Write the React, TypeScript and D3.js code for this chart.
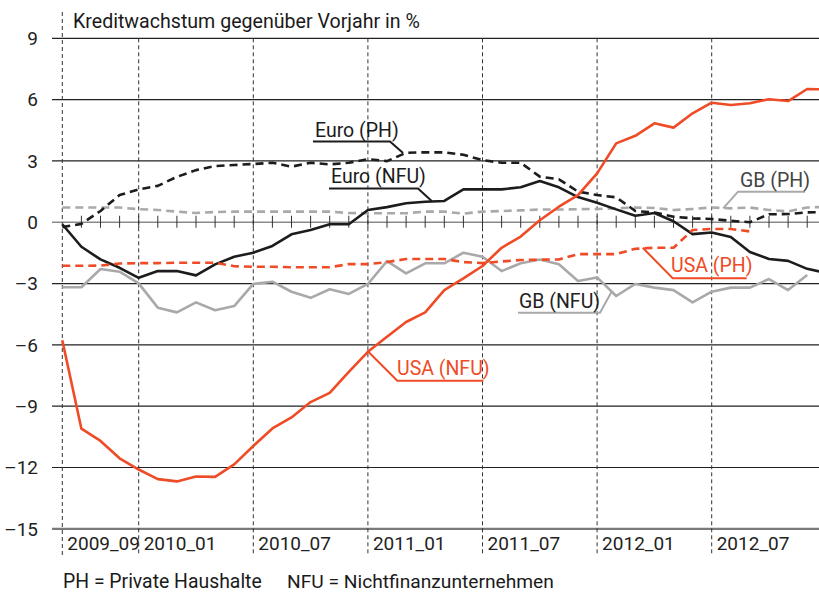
import React from 'react';
import * as d3 from 'd3';

// months from 2009_09 to 2013_01 (last one sits just outside the right edge)
const months = [
  '2009_09', '2009_10', '2009_11', '2009_12',
  '2010_01', '2010_02', '2010_03', '2010_04', '2010_05', '2010_06',
  '2010_07', '2010_08', '2010_09', '2010_10', '2010_11', '2010_12',
  '2011_01', '2011_02', '2011_03', '2011_04', '2011_05', '2011_06',
  '2011_07', '2011_08', '2011_09', '2011_10', '2011_11', '2011_12',
  '2012_01', '2012_02', '2012_03', '2012_04', '2012_05', '2012_06',
  '2012_07', '2012_08', '2012_09', '2012_10', '2012_11', '2012_12',
  '2013_01',
];

const monthLabels = ['2009_09', '2010_01', '2010_07', '2011_01', '2011_07', '2012_01', '2012_07'];
const yTicks = [9, 6, 3, 0, -3, -6, -9, -12, -15];

const euroPH = [
  -0.24, -0.08, 0.55, 1.33, 1.61, 1.78, 2.22, 2.55, 2.75, 2.8, 2.85, 2.91, 2.72, 2.91,
  2.83, 2.91, 3.09, 2.99, 3.4, 3.42, 3.42, 3.3, 3.04, 2.91, 2.91, 2.23, 2.1, 1.5,
  1.33, 1.22, 0.55, 0.48, 0.27, 0.19, 0.16, 0.07, 0.0, 0.39, 0.4, 0.48, 0.5,
];
const euroNFU = [
  -0.1, -1.2, -1.82, -2.23, -2.72, -2.39, -2.39, -2.6, -2.06, -1.69, -1.49, -1.16, -0.59, -0.38,
  -0.1, -0.1, 0.6, 0.74, 0.93, 1.0, 1.04, 1.61, 1.61, 1.61, 1.71, 2.02, 1.71, 1.23,
  0.95, 0.63, 0.32, 0.45, 0.05, -0.58, -0.5, -0.72, -1.46, -1.8, -1.89, -2.28, -2.48,
];
const gbPH = [
  0.72, 0.72, 0.72, 0.72, 0.64, 0.6, 0.52, 0.45, 0.5, 0.52, 0.52, 0.52, 0.52, 0.52,
  0.52, 0.45, 0.44, 0.44, 0.44, 0.52, 0.52, 0.42, 0.52, 0.55, 0.58, 0.62, 0.62, 0.64,
  0.65, 0.68, 0.72, 0.7, 0.6, 0.65, 0.72, 0.68, 0.72, 0.6, 0.53, 0.72, 0.75,
];
const gbNFU = [
  -3.18, -3.18, -2.29, -2.42, -2.99, -4.18, -4.41, -3.92, -4.31, -4.1, -3.02, -2.91, -3.4, -3.7,
  -3.28, -3.51, -3.02, -1.9, -2.5, -2.01, -2.01, -1.49, -1.69, -2.39, -2.01, -1.82, -2.06, -2.88,
  -2.7, -3.61, -3.02, -3.2, -3.32, -3.92, -3.4, -3.2, -3.2, -2.78, -3.32, -2.58,
];
const usaPH = [
  -2.13, -2.13, -2.12, -2.02, -2.0, -2.0, -1.98, -1.98, -1.98, -2.15, -2.18, -2.18, -2.2, -2.2,
  -2.2, -2.05, -2.05, -1.95, -1.8, -1.8, -1.8, -1.95, -2.0, -1.92, -1.85, -1.83, -1.82, -1.56,
  -1.56, -1.56, -1.3, -1.25, -1.25, -0.38, -0.33, -0.33, -0.45,
];
const usaNFU = [
  -5.77, -10.1, -10.7, -11.55, -12.1, -12.57, -12.68, -12.44, -12.46, -11.85, -10.95, -10.09, -9.55, -8.8,
  -8.35, -7.32, -6.34, -5.6, -4.88, -4.41, -3.32, -2.75, -2.14, -1.25, -0.7, 0.1, 0.76, 1.33,
  2.39, 3.86, 4.23, 4.84, 4.63, 5.33, 5.85, 5.74, 5.82, 6.02, 5.93, 6.52, 6.5,
];

const RED = '#ef4b26';
const BLACK = '#1c1c1c';
const GRAY = '#a9a9a9';
const FONT = "Roboto, 'DejaVu Sans', sans-serif";

const W = 819;
const H = 592;

export default function App() {
  const x = d3.scalePoint<string>().domain(months).range([62.3, 62.3 + 19.1 * (months.length - 1)]);
  const y = d3.scaleLinear().domain([-15, 9]).range([528.8, 38.3]);
  // fractional month position for label anchors
  const xi = (i: number) => 62.3 + x.step() * i;

  const line = d3.line<number>()
    .x((_, i) => x(months[i]) as number)
    .y(d => y(d));

  const series = [
    { data: gbPH, color: GRAY, dash: '8,5' },
    { data: gbNFU, color: GRAY, dash: null },
    { data: euroPH, color: BLACK, dash: '8,5' },
    { data: euroNFU, color: BLACK, dash: null },
    { data: usaPH, color: RED, dash: '8,5' },
    { data: usaNFU, color: RED, dash: null },
  ];

  // label annotations: text box in pixels, anchor in data coordinates
  const labels = [
    { text: 'Euro (PH)', color: BLACK, line: BLACK, tx: 315, ty: 137, u0: 313, u1: 390, uy: 141.5, side: 'right', ai: 17.84, av: 3.39 },
    { text: 'Euro (NFU)', color: BLACK, line: BLACK, tx: 331, ty: 182.5, u0: 329, u1: 418, uy: 188.5, side: 'right', ai: 19.34, av: 1.04 },
    { text: 'GB (PH)', color: '#444', line: GRAY, tx: 740, ty: 186.5, u0: 738, u1: 805, uy: 191.7, side: 'left', ai: 34.6, av: 0.68 },
    { text: 'GB (NFU)', color: '#222', line: GRAY, tx: 519, ty: 308, u0: 518, u1: 600, uy: 312.7, side: 'right', ai: 28.76, av: -3.4 },
    { text: 'USA (PH)', color: RED, line: RED, tx: 671, ty: 271.5, u0: 672.7, u1: 746.7, uy: 278.3, side: 'left', ai: 30.39, av: -1.25 },
    { text: 'USA (NFU)', color: RED, line: RED, tx: 397, ty: 375, u0: 397.3, u1: 483.3, uy: 380.7, side: 'left', ai: 15.97, av: -6.29 },
  ];

  const y0 = y(0);

  return (
    <div style={{ position: 'absolute', left: 0, top: 0 }}>
      <svg width={W} height={H} style={{ display: 'block', background: '#fff' }} fontFamily={FONT}>
        {/* horizontal grid */}
        {yTicks.map(t => (
          <g key={t}>
            <line
              x1={52} x2={W} y1={y(t)} y2={y(t)}
              stroke={t === 0 ? '#8a8a8a' : t === -15 ? '#7a7a7a' : '#222'}
              strokeWidth={t === 0 ? 1.6 : t === -15 ? 2.2 : 1.2}
            />
            <text x={38} y={y(t)} dy="0.36em" textAnchor="end" fontSize={19} fill="#222">
              {t < 0 ? '\u2013' + Math.abs(t) : String(t)}
            </text>
          </g>
        ))}

        {/* month ticks on the zero line */}
        {months.slice(1).map(m => (
          <line key={m} x1={x(m)} x2={x(m)} y1={y0 - 6.5} y2={y0 + 5.5} stroke="#333" strokeWidth={1} />
        ))}

        {/* vertical dashed lines */}
        {monthLabels.map((m, i) => (
          <g key={m}>
            <line
              x1={x(m)} x2={x(m)} y1={i === 0 ? 12 : y(9)} y2={555}
              stroke="#333" strokeWidth={1} strokeDasharray="4,3"
            />
            <text x={(x(m) as number) + 5} y={550} fontSize={19} fill="#222">{m}</text>
          </g>
        ))}

        {/* series */}
        {series.map((s, i) => (
          <path
            key={i}
            d={line(s.data) || ''}
            fill="none"
            stroke={s.color}
            strokeWidth={2.6}
            strokeDasharray={s.dash || undefined}
            strokeLinejoin="round"
          />
        ))}

        {/* labels with leader lines */}
        {labels.map(l => {
          const ax = xi(l.ai);
          const ay = y(l.av);
          const start = l.side === 'right' ? l.u1 : l.u0;
          const other = l.side === 'right' ? l.u0 : l.u1;
          return (
            <g key={l.text}>
              <polyline
                points={`${other},${l.uy} ${start},${l.uy} ${ax},${ay}`}
                fill="none"
                stroke={l.line}
                strokeWidth={2}
              />
              <text x={l.tx} y={l.ty} fontSize={19.5} fill={l.color}>{l.text}</text>
            </g>
          );
        })}

        {/* title */}
        <text x={73} y={28} fontSize={19.6} fill="#1a1a1a">Kreditwachstum gegenüber Vorjahr in %</text>

        {/* footnote */}
        <text x={63} y={588} fontSize={19.4} fill="#1a1a1a">PH = Private Haushalte</text>
        <text x={287} y={588} fontSize={19.2} fill="#1a1a1a">NFU = Nichtfinanzunternehmen</text>
      </svg>
    </div>
  );
}
